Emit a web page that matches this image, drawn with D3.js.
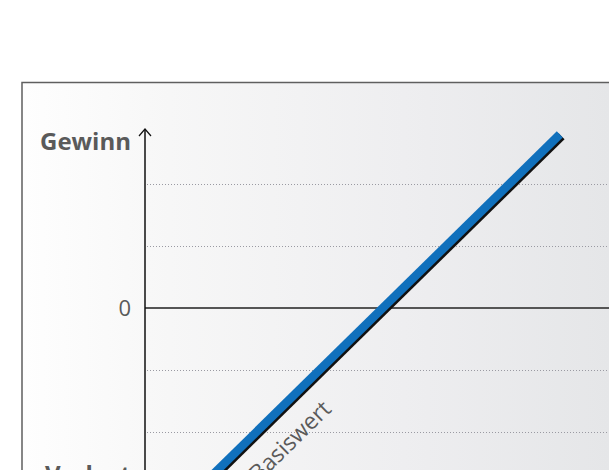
<!DOCTYPE html>
<html>
<head>
<meta charset="utf-8">
<script src="https://cdn.jsdelivr.net/npm/d3@7"></script>
<style>
  html, body { margin: 0; padding: 0; background: #ffffff; }
  svg { display: block; }
  text { font-family: "Open Sans", "Noto Sans", sans-serif; }
</style>
</head>
<body>
<div id="chart"></div>
<script>
// ---- data ----
const gridValues = [-2, -1, 1, 2];          // dotted helper lines
const zeroValue = [0];                        // zero line
const zeroLabel = ["0"];
const axisEndLabels = ["Gewinn", "Verlust"];
const axisEndValues = [2.69, -2.69];
const basisX = [0.98, 6.69];                  // underlying (Basiswert) line
const basisY = [-2.8, 2.8];
const basisLabel = ["Basiswert"];
const basisLabelAt = [2.0];                   // x position of the label along the line

// ---- layout ----
const W = 609, H = 470;
const svg = d3.select("#chart").append("svg").attr("width", W).attr("height", H);

const x = d3.scaleLinear().domain([0, 10]).range([145, 765]);
const y = d3.scaleLinear().domain([-3, 3]).range([494, 122]);

const defs = svg.append("defs");
const grad = defs.append("linearGradient").attr("id", "bg")
  .attr("gradientUnits", "userSpaceOnUse")
  .attr("x1", 22).attr("x2", 609).attr("y1", 0).attr("y2", 0);
grad.append("stop").attr("offset", "0").attr("stop-color", "#fefefe");
grad.append("stop").attr("offset", "0.25").attr("stop-color", "#f7f7f7");
grad.append("stop").attr("offset", "0.65").attr("stop-color", "#eeeef0");
grad.append("stop").attr("offset", "1").attr("stop-color", "#e5e6e8");

// panel
svg.append("rect")
  .attr("x", 22).attr("y", 82.5).attr("width", 700).attr("height", 500)
  .attr("fill", "url(#bg)")
  .attr("stroke", "#5f5f5f").attr("stroke-width", 1.5);

// dotted gridlines
svg.selectAll("line.grid").data(gridValues).join("line")
  .attr("class", "grid")
  .attr("x1", x(0) + 2).attr("x2", W + 10)
  .attr("y1", d => Math.round(y(d)) + 0.5).attr("y2", d => Math.round(y(d)) + 0.5)
  .attr("stroke", "#9a9aa2").attr("stroke-width", 1)
  .attr("stroke-dasharray", "1,2");

// zero line
svg.selectAll("line.zero").data(zeroValue).join("line")
  .attr("class", "zero")
  .attr("x1", x(0)).attr("x2", W + 10)
  .attr("y1", d => y(d)).attr("y2", d => y(d))
  .attr("stroke", "#555555").attr("stroke-width", 2);

// y axis with arrow
const axTop = y(2.887);
svg.append("line")
  .attr("x1", x(0)).attr("x2", x(0))
  .attr("y1", axTop).attr("y2", H + 40)
  .attr("stroke", "#111").attr("stroke-width", 1.5);
svg.append("path")
  .attr("d", `M${x(0) - 6},${axTop + 7} L${x(0)},${axTop} L${x(0) + 6},${axTop + 7}`)
  .attr("fill", "none").attr("stroke", "#111").attr("stroke-width", 1.2);

// axis end labels
svg.selectAll("text.end").data(axisEndLabels).join("text")
  .attr("class", "end")
  .attr("x", x(0) - 14)
  .attr("y", (d, i) => y(axisEndValues[i]))
  .attr("dy", "0.36em")
  .attr("text-anchor", "end")
  .attr("font-size", 24).attr("font-weight", "bold")
  .attr("fill", "#5a5a5a")
  .text(d => d);

// zero label
svg.selectAll("text.zl").data(zeroLabel).join("text")
  .attr("class", "zl")
  .attr("x", x(0) - 14).attr("y", y(0)).attr("dy", "0.35em")
  .attr("text-anchor", "end")
  .attr("font-size", 22)
  .attr("fill", "#5a5a5a")
  .text(d => d);

// basis line (shadow + blue)
const pts = basisX.map((v, i) => [x(v), y(basisY[i])]);
const lineGen = d3.line();
svg.append("path")
  .attr("d", lineGen(pts))
  .attr("transform", "translate(1.8,1.8)")
  .attr("fill", "none").attr("stroke", "#111").attr("stroke-width", 8.5)
  .attr("stroke-linecap", "butt");
svg.append("path")
  .attr("d", lineGen(pts))
  .attr("fill", "none").attr("stroke", "#1070bc").attr("stroke-width", 8.5)
  .attr("stroke-linecap", "butt");

// basis label along the line
const slope = (pts[1][1] - pts[0][1]) / (pts[1][0] - pts[0][0]);
const ang = Math.atan(slope) * 180 / Math.PI;
const lx = x(basisLabelAt[0]);
const ly = pts[0][1] + slope * (lx - pts[0][0]);
svg.selectAll("text.basis").data(basisLabel).join("text")
  .attr("class", "basis")
  .attr("transform", `translate(${lx},${ly}) rotate(${ang})`)
  .attr("y", 38)
  .attr("text-anchor", "middle")
  .attr("font-size", 23)
  .attr("fill", "#5a5a5a")
  .text(d => d);
</script>
</body>
</html>
